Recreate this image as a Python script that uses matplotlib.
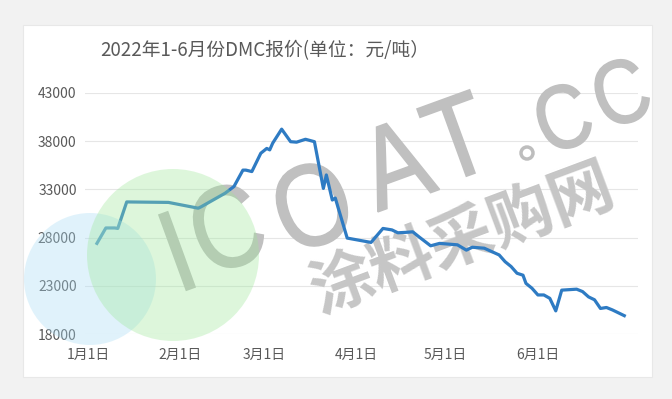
import numpy as np
import matplotlib
matplotlib.use('Agg')
import matplotlib.pyplot as plt
from matplotlib.patches import Rectangle, Ellipse, PathPatch
from matplotlib.textpath import TextPath
from matplotlib.font_manager import FontProperties
from matplotlib.transforms import Affine2D
from datetime import datetime, timedelta

# DMC quotes (yuan / ton)
dates = ["2022-01-04", "2022-01-07", "2022-01-10", "2022-01-11", "2022-01-14",
         "2022-01-28", "2022-02-07", "2022-02-08", "2022-02-14", "2022-02-16",
         "2022-02-19", "2022-02-22", "2022-02-23", "2022-02-25", "2022-02-28",
         "2022-03-02", "2022-03-03", "2022-03-04", "2022-03-07", "2022-03-10",
         "2022-03-12", "2022-03-15", "2022-03-18", "2022-03-21", "2022-03-22",
         "2022-03-24", "2022-03-25", "2022-03-29", "2022-04-06", "2022-04-10",
         "2022-04-13", "2022-04-15", "2022-04-18", "2022-04-20", "2022-04-22",
         "2022-04-26", "2022-04-29", "2022-05-05", "2022-05-08", "2022-05-10",
         "2022-05-14", "2022-05-19", "2022-05-21", "2022-05-23", "2022-05-25",
         "2022-05-27", "2022-05-28", "2022-05-30", "2022-06-01", "2022-06-03",
         "2022-06-05", "2022-06-07", "2022-06-09", "2022-06-14", "2022-06-16",
         "2022-06-18", "2022-06-20", "2022-06-22", "2022-06-24", "2022-06-26",
         "2022-06-28", "2022-06-30"]
prices = [27400, 29000, 29000, 28950, 31700,
          31650, 31050, 31200, 32250, 32600,
          33300, 35000, 35000, 34850, 36750,
          37250, 37100, 37800, 39250, 37950,
          37900, 38200, 37950, 33100, 34500,
          31900, 32100, 27950, 27500, 28950,
          28800, 28500, 28550, 28600, 28100,
          27150, 27400, 27250, 26700, 27000,
          26900, 26200, 25500, 25000, 24300,
          24100, 23250, 22750, 22050, 22050,
          21700, 20400, 22550, 22650, 22400,
          21850, 21550, 20650, 20750, 20500,
          20200, 19900]

tick_dates = ["2022-01-01", "2022-02-01", "2022-03-01", "2022-04-01", "2022-05-01", "2022-06-01"]
tick_labels = ["1月1日", "2月1日", "3月1日", "4月1日", "5月1日", "6月1日"]
y_ticks = [18000, 23000, 28000, 33000, 38000, 43000]

title = "2022年1-6月份DMC报价(单位：元/吨）"

plt.rcParams['font.family'] = ['Noto Sans CJK SC', 'DejaVu Sans']

W, H = 672., 399.
fig = plt.figure(figsize=(W / 100, H / 100), dpi=100, facecolor='#f2f2f2')

# white chart card, behind the axes
fig.patches.append(Rectangle((23 / W, 1 - 377 / H), (652 - 23) / W, (377 - 25) / H,
                             transform=fig.transFigure, fc='white', ec='#e8e8e8', lw=0.8, zorder=-5))

ax = fig.add_axes([85 / W, 1 - 334 / H, 553 / W, 241 / H])
ax.set_facecolor('none')

x = [datetime.strptime(d, "%Y-%m-%d") for d in dates]
ax.plot(x, prices, color='#2e7bc3', lw=2.3, solid_joinstyle='round', zorder=2)

jan1 = datetime(2022, 1, 1)
ax.set_xlim(jan1 - timedelta(days=1), jan1 + timedelta(days=184.6))
ax.set_ylim(18000, 43000)
ax.set_yticks(y_ticks)
ax.set_yticklabels([str(v) for v in y_ticks])
ax.set_xticks([datetime.strptime(d, "%Y-%m-%d") for d in tick_dates])
ax.set_xticklabels(tick_labels)
ax.tick_params(axis='both', length=0, labelsize=10, colors='#595959')
ax.tick_params(axis='y', pad=6)
ax.tick_params(axis='x', pad=10)
for s in ax.spines.values():
    s.set_visible(False)
ax.yaxis.grid(True, color='#e6e6e6', lw=0.8, zorder=0)
ax.set_axisbelow(True)

fig.text(265 / W, 1 - 51 / H, title, ha='center', va='center', fontsize=13.5, color='#595959')

# watermark: two pale circles and grey text
ax.add_patch(Ellipse((90 / W, 1 - 279 / H), 132 / W, 132 / H, transform=fig.transFigure,
                     fc='#a8dcf5', ec='none', alpha=0.35, clip_on=False, zorder=3))
ax.add_patch(Ellipse((173 / W, 1 - 255 / H), 172 / W, 172 / H, transform=fig.transFigure,
                     fc='#9ee89a', ec='none', alpha=0.35, clip_on=False, zorder=3))

# "ICOAT.CC" drawn letter by letter, condensed, in pixel coords (top-left origin)
px = Affine2D().scale(1 / 100.) + fig.dpi_scale_trans
wm_font = FontProperties(family='Liberation Sans')
cap_h = TextPath((0, 0), "H", size=1, prop=wm_font).get_extents().height
wm_letters = [("I", 177, 251, 80), ("C", 227, 227, 80), ("O", 312, 205, 80),
              ("A", 395, 163, 80), ("T", 457, 137, 80), ("C", 563, 117, 62), ("C", 621, 92, 62)]
for ch, cx, cy, cap_px in wm_letters:
    tp = TextPath((0, 0), ch, size=1, prop=wm_font)
    bb = tp.get_extents()
    k = cap_px / cap_h
    tr = (Affine2D().translate(-(bb.x0 + bb.x1) / 2, -(bb.y0 + bb.y1) / 2)
          .scale(0.85 * k, k).rotate_deg(20).translate(cx, H - cy)) + px
    ax.add_patch(PathPatch(tp, transform=tr, fc='#c0c0c0', ec='#c0c0c0', lw=1.2,
                           zorder=1, clip_on=False))
ax.add_patch(Ellipse((527, H - 153), 12, 12, transform=px, fc='white', ec='#bdbdbd', lw=2.5,
                     zorder=1, clip_on=False))

ax.text(462 / W, 1 - 240 / H, "涂料采购网", transform=fig.transFigure, ha='center', va='center',
        rotation=20.5, rotation_mode='anchor', fontsize=46, fontweight='bold', color='#c6c6c6',
        zorder=1, clip_on=False)

fig.savefig('out.png', dpi=100, facecolor=fig.get_facecolor())
